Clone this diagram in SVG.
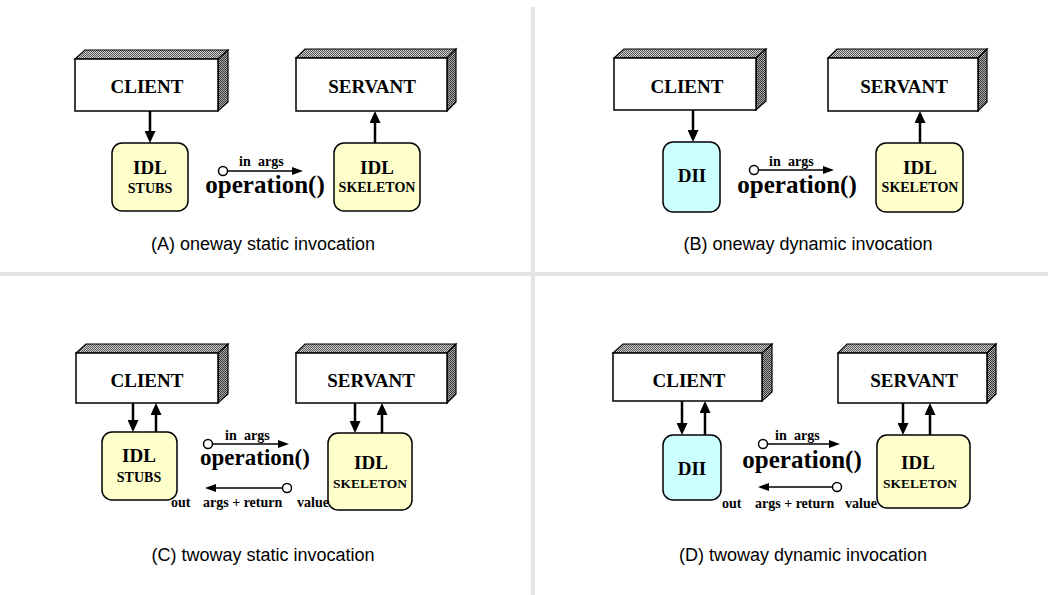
<svg xmlns="http://www.w3.org/2000/svg" width="1048" height="595" viewBox="0 0 1048 595">
<style>
.bg{fill:#ffffff}
.div{stroke:#e3e3e3;stroke-width:4;fill:none}
.front{fill:#ffffff;stroke:#000;stroke-width:1.5}
.top{fill:url(#hatchT);stroke:#000;stroke-width:1.2}
.side{fill:url(#hatchS);stroke:#000;stroke-width:1.2}
.yel{fill:#ffffcc;stroke:#000;stroke-width:1.5}
.cyan{fill:#ccffff;stroke:#000;stroke-width:1.5}
.t{font-family:"Liberation Serif","Times New Roman",serif;font-weight:bold;fill:#000;text-anchor:middle}
.big{font-size:19px}
.sm{font-size:14px}
.sm2{font-size:13.5px}
.op{font-size:25px}
.lab{font-family:"Liberation Serif","Times New Roman",serif;font-weight:bold;font-size:14px;fill:#000}
.cap{font-family:"Liberation Sans",Arial,sans-serif;font-size:18px;fill:#000;text-anchor:middle}
.va{stroke:#000;stroke-width:2.5;fill:none;marker-end:url(#headV)}
.ha{stroke:#000;stroke-width:1.6;fill:none;marker-end:url(#headH)}
.dot{fill:#fff;stroke:#000;stroke-width:1.5}
</style>
<defs>
<pattern id="hatchT" patternUnits="userSpaceOnUse" width="2" height="2">
<rect width="2" height="2" fill="#d0d0d0"/>
<rect width="1" height="1" fill="#555"/>
<rect x="1" y="1" width="1" height="1" fill="#555"/>
</pattern>
<pattern id="hatchS" patternUnits="userSpaceOnUse" width="2" height="2">
<rect width="2" height="2" fill="#b0b0b0"/>
<rect width="1" height="1" fill="#333"/>
<rect x="1" y="1" width="1" height="1" fill="#333"/>
</pattern>
<marker id="headV" markerUnits="userSpaceOnUse" markerWidth="12" markerHeight="11" refX="0" refY="5.5" orient="auto">
<path d="M0,0 L12,5.5 L0,11 z" fill="#000"/>
</marker>
<marker id="headH" markerUnits="userSpaceOnUse" markerWidth="11" markerHeight="8" refX="0" refY="4" orient="auto">
<path d="M0,0 L11,4 L0,8 z" fill="#000"/>
</marker>
</defs>
<rect class="bg" x="0" y="0" width="1048" height="595"/>

<g id="dividers">
<line class="div" x1="533" y1="7" x2="533" y2="595"/>
<line class="div" x1="0" y1="274" x2="1048" y2="274"/>
</g>

<!-- Panel A -->
<g id="a-client">
<polygon class="top" points="75,59 85,50 228,50 218,59"/>
<polygon class="side" points="218,59 228,50 228,102 218,111"/>
<rect class="front" x="75" y="59" width="143" height="52"/>
<text class="t big" x="147" y="93">CLIENT</text>
</g>
<g id="a-stubs">
<rect class="yel" x="112" y="143" width="76" height="68" rx="10"/>
<text class="t big" x="150" y="174">IDL</text>
<text class="t sm" x="150" y="193">STUBS</text>
</g>
<g id="a-servant">
<polygon class="top" points="296,58 305,49 456,49 447,58"/>
<polygon class="side" points="447,58 456,49 456,102 447,111"/>
<rect class="front" x="296" y="58" width="151" height="53"/>
<text class="t big" x="372" y="93">SERVANT</text>
</g>
<g id="a-skeleton">
<rect class="yel" x="334" y="143" width="86" height="68" rx="10"/>
<text class="t big" x="377" y="174">IDL</text>
<text class="t sm" x="377" y="192">SKELETON</text>
</g>
<g id="a-op">
<text class="lab" y="166"><tspan x="239">in</tspan><tspan x="258">args</tspan></text>
<text class="t op" x="265" y="193">operation()</text>
</g>
<text class="cap" x="263" y="250">(A) oneway static invocation</text>

<!-- Panel B -->
<g id="b-client">
<polygon class="top" points="614,58 624,49 766,49 756,58"/>
<polygon class="side" points="756,58 766,49 766,101 756,110"/>
<rect class="front" x="614" y="58" width="142" height="52"/>
<text class="t big" x="687" y="93">CLIENT</text>
</g>
<g id="b-dii">
<rect class="cyan" x="663" y="142" width="57" height="70" rx="10"/>
<text class="t big" x="692" y="182">DII</text>
</g>
<g id="b-servant">
<polygon class="top" points="828,58 837,49 987,49 978,58"/>
<polygon class="side" points="978,58 987,49 987,102 978,111"/>
<rect class="front" x="828" y="58" width="150" height="53"/>
<text class="t big" x="904" y="93">SERVANT</text>
</g>
<g id="b-skeleton">
<rect class="yel" x="876" y="143" width="87" height="69" rx="10"/>
<text class="t big" x="920" y="174">IDL</text>
<text class="t sm" x="920" y="192">SKELETON</text>
</g>
<g id="b-op">
<text class="lab" y="166"><tspan x="769">in</tspan><tspan x="788">args</tspan></text>
<text class="t op" x="797" y="193">operation()</text>
</g>
<text class="cap" x="808" y="250">(B) oneway dynamic invocation</text>

<!-- Panel C -->
<g id="c-client">
<polygon class="top" points="76,353 86,344 228,344 218,353"/>
<polygon class="side" points="218,353 228,344 228,394 218,403"/>
<rect class="front" x="76" y="353" width="142" height="50"/>
<text class="t big" x="147" y="387">CLIENT</text>
</g>
<g id="c-stubs">
<rect class="yel" x="102" y="432" width="75" height="68" rx="10"/>
<text class="t big" x="139" y="462">IDL</text>
<text class="t sm" x="139" y="482">STUBS</text>
</g>
<g id="c-servant">
<polygon class="top" points="296,353 305,344 456,344 447,353"/>
<polygon class="side" points="447,353 456,344 456,394 447,403"/>
<rect class="front" x="296" y="353" width="151" height="50"/>
<text class="t big" x="371" y="387">SERVANT</text>
</g>
<g id="c-skeleton">
<rect class="yel" x="328" y="433" width="84" height="77" rx="10"/>
<text class="t big" x="371" y="469">IDL</text>
<text class="t sm2" x="370" y="488">SKELETON</text>
</g>
<g id="c-op">
<text class="lab" y="440"><tspan x="225">in</tspan><tspan x="244">args</tspan></text>
<text class="t" style="font-size:23px" x="255" y="465">operation()</text>
<text class="lab" y="507"><tspan x="171">out</tspan><tspan x="203">args + return</tspan><tspan x="297">value</tspan></text>
</g>
<text class="cap" x="263" y="561">(C) twoway static invocation</text>

<!-- Panel D -->
<g id="d-client">
<polygon class="top" points="613,353 623,344 772,344 762,353"/>
<polygon class="side" points="762,353 772,344 772,392 762,401"/>
<rect class="front" x="613" y="353" width="149" height="48"/>
<text class="t big" x="689" y="387">CLIENT</text>
</g>
<g id="d-dii">
<rect class="cyan" x="663" y="435" width="58" height="65" rx="10"/>
<text class="t big" x="692" y="475">DII</text>
</g>
<g id="d-servant">
<polygon class="top" points="838,353 847,344 996,344 987,353"/>
<polygon class="side" points="987,353 996,344 996,394 987,403"/>
<rect class="front" x="838" y="353" width="149" height="50"/>
<text class="t big" x="914" y="387">SERVANT</text>
</g>
<g id="d-skeleton">
<rect class="yel" x="877" y="435" width="93" height="73" rx="10"/>
<text class="t big" x="918" y="469">IDL</text>
<text class="t sm2" x="920" y="488">SKELETON</text>
</g>
<g id="d-op">
<text class="lab" y="440"><tspan x="775">in</tspan><tspan x="794">args</tspan></text>
<text class="t op" x="802" y="468">operation()</text>
<text class="lab" y="508"><tspan x="722">out</tspan><tspan x="755">args + return</tspan><tspan x="845">value</tspan></text>
</g>
<text class="cap" x="803" y="561">(D) twoway dynamic invocation</text>

<g id="connectors">
<!-- A -->
<line class="va" x1="150" y1="111" x2="150" y2="131"/>
<line class="va" x1="375" y1="143" x2="375" y2="123"/>
<circle class="dot" cx="223" cy="171" r="4.5"/>
<line class="ha" x1="227.5" y1="171" x2="292" y2="171"/>
<!-- B -->
<line class="va" x1="693" y1="110" x2="693" y2="130"/>
<line class="va" x1="920" y1="143" x2="920" y2="123"/>
<circle class="dot" cx="754" cy="170" r="4.5"/>
<line class="ha" x1="758.5" y1="170" x2="823" y2="170"/>
<!-- C -->
<line class="va" x1="133" y1="403" x2="133" y2="420"/>
<line class="va" x1="156" y1="432" x2="156" y2="415"/>
<line class="va" x1="355" y1="403" x2="355" y2="421"/>
<line class="va" x1="382" y1="433" x2="382" y2="415"/>
<circle class="dot" cx="208" cy="444" r="4.5"/>
<line class="ha" x1="212.5" y1="444" x2="278" y2="444"/>
<circle class="dot" cx="287" cy="488" r="4.5"/>
<line class="ha" x1="282.5" y1="488" x2="216" y2="488"/>
<!-- D -->
<line class="va" x1="682" y1="401" x2="682" y2="423"/>
<line class="va" x1="705" y1="435" x2="705" y2="413"/>
<line class="va" x1="903" y1="403" x2="903" y2="423"/>
<line class="va" x1="930" y1="435" x2="930" y2="415"/>
<circle class="dot" cx="763" cy="444" r="4.5"/>
<line class="ha" x1="767.5" y1="444" x2="829" y2="444"/>
<circle class="dot" cx="837" cy="487" r="4.5"/>
<line class="ha" x1="832.5" y1="487" x2="769" y2="487"/>
</g>
</svg>
